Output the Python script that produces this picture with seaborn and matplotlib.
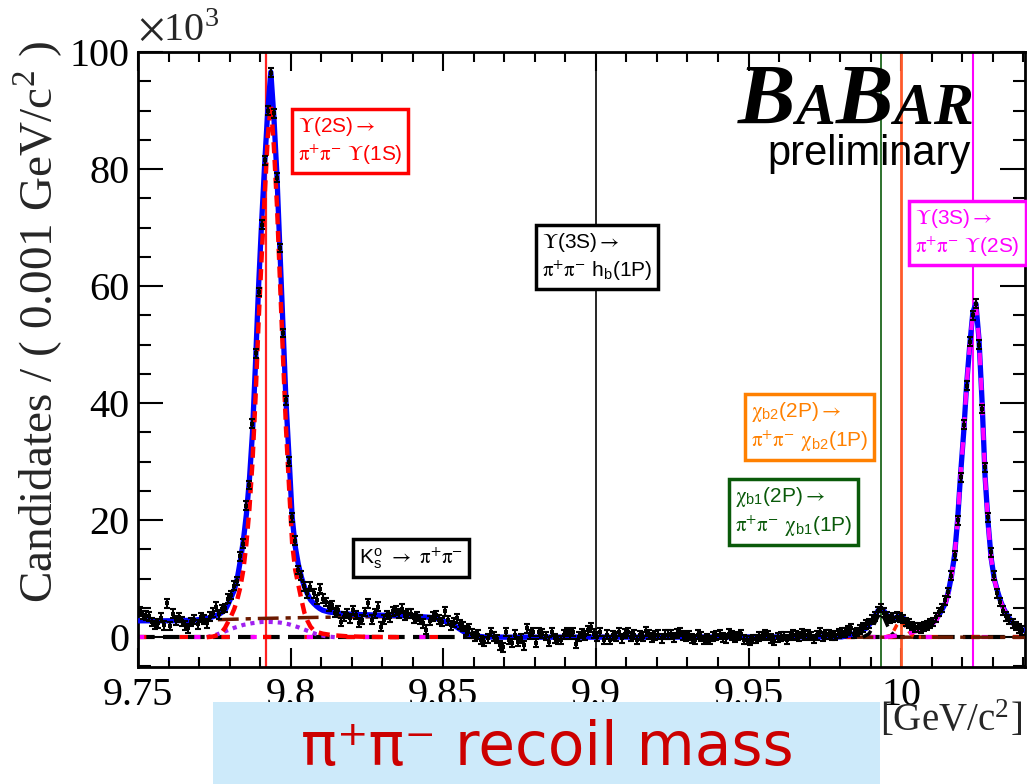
import numpy as np
import pandas as pd
import matplotlib
matplotlib.use("Agg")
import matplotlib.pyplot as plt
import matplotlib.ticker as mticker
from matplotlib.patches import Rectangle
from matplotlib.offsetbox import TextArea, HPacker, AnnotationBbox
import seaborn as sns

# ---------------- data (candidates in units of 10^3) ----------------
MASS_START = 9.750     # GeV/c^2, low edge of first bin
BIN_WIDTH = 0.001      # GeV/c^2

counts = [
    4.4, 3.8, 3.7, 3.6, 2.6, 2.1, 2.4, 3.3, 2.0, 5.8,
    1.9, 4.0, 2.9, 3.4, 2.7, 2.0, 1.5, 2.6, 3.0, 2.2,
    3.4, 3.0, 2.4, 3.5, 4.2, 5.2, 3.9, 4.8, 5.0, 6.6,
    7.2, 8.8, 9.6, 13.8, 16.0, 22.5, 26.0, 36.5, 48.5, 59.0,
    70.5, 81.5, 90.0, 96.5, 89.5, 78.5, 66.5, 52.0, 40.5, 30.0,
    20.5, 16.5, 11.5, 10.5, 8.7, 7.5, 8.6, 7.5, 6.4, 8.3,
    6.6, 6.0, 5.2, 5.5, 4.2, 4.6, 2.6, 3.5, 4.0, 3.2,
    4.6, 3.8, 2.5, 3.0, 4.3, 5.8, 3.0, 4.1, 5.2, 1.8,
    3.0, 3.8, 3.4, 4.4, 4.6, 4.1, 4.9, 3.7, 4.0, 4.0,
    3.2, 3.5, 3.0, 2.4, 1.3, 2.8, 3.5, 3.8, 3.0, 2.6,
    4.4, 2.9, 2.0, 2.5, 3.2, 2.2, 1.8, 1.2, 1.5, 0.6,
    0.1, 0.4, -0.5, -0.8, -0.2, 0.9, 0.1, -0.3, -1.4, -1.7,
    0.9, -0.5, -1.0, 0.4, -0.8, -0.2, -1.4, 1.5, 0.4, 0.9,
    -1.0, 0.9, 0.6, 0.2, -0.8, 0.9, -0.2, -0.5, -0.5, 0.4,
    0.9, 0.4, 0.9, -1.1, 0.1, 0.6, 0.3, 1.2, 1.7, 0.6,
    0.1, 0.9, -0.5, 0.4, -0.5, 0.3, 0.1, 0.9, -0.2, 0.6,
    0.9, 0.1, 0.4, -0.5, 0.3, 0.1, 1.0, 0.4, 0.0, 0.3,
    0.4, -0.2, 0.4, 0.4, 0.5, 0.0, 0.6, 0.9, 0.3, 0.1,
    0.3, -0.2, -0.4, 0.4, 0.1, -0.5, -0.2, -0.5, 0.1, 0.3,
    0.4, 0.0, -0.2, 0.6, 0.3, -0.1, 0.2, 0.5, -0.4, -0.5,
    -0.6, -0.3, -0.3, 0.1, 0.2, 0.5, 0.3, -0.2, -0.6, -0.1,
    0.1, 0.2, -0.4, 0.2, 0.4, 0.3, 0.1, 0.6, 0.3, 0.4,
    0.2, -0.3, 0.3, 0.9, 0.1, 0.4, 0.5, 0.2, 0.3, 0.6,
    0.9, 0.8, 1.2, 1.5, 0.6, 0.9, 1.3, 1.6, 2.2, 2.4,
    3.0, 3.6, 4.4, 5.0, 4.2, 3.6, 3.1, 3.3, 3.5, 3.3,
    3.1, 2.6, 2.3, 1.9, 1.6, 1.7, 1.5, 1.8, 2.0, 2.3,
    2.6, 3.4, 4.3, 5.0, 6.3, 7.7, 10.5, 14.0, 20.0, 27.3,
    36.3, 43.0, 50.5, 55.0, 57.0, 50.0, 39.0, 29.0, 20.5, 14.5,
    10.5, 7.5, 6.0, 4.5, 3.6, 3.0, 2.4, 1.9, 1.5, 1.2,
]
count_err = 0.75   # typical half-length of the error bars (10^3)

# total fit (blue)
fit_total_m = [9.7500, 9.7605, 9.7685, 9.7725, 9.7745, 9.7765, 9.7785, 9.7795, 9.7805, 9.7815,
               9.7825, 9.7835, 9.7845, 9.7855, 9.7865, 9.7875, 9.7885, 9.7895, 9.7905, 9.7915,
               9.7925, 9.7935, 9.7945, 9.7955, 9.7965, 9.7975, 9.7985, 9.7995, 9.8005, 9.8015,
               9.8025, 9.8035, 9.8045, 9.8055, 9.8065, 9.8075, 9.8085, 9.8095, 9.8105, 9.8125,
               9.8155, 9.8205, 9.8305, 9.8405, 9.8455, 9.8485, 9.8505, 9.8525, 9.8545, 9.8565,
               9.8585, 9.8605, 9.8635, 9.8705, 9.9805, 9.9825, 9.9855, 9.9885, 9.9905, 9.9915,
               9.9925, 9.9935, 9.9945, 9.9955, 9.9965, 9.9975, 9.9985, 9.9995, 10.0005, 10.0015,
               10.0025, 10.0035, 10.0045, 10.0055, 10.0065, 10.0075, 10.0085, 10.0095, 10.0105, 10.0115,
               10.0125, 10.0135, 10.0145, 10.0155, 10.0165, 10.0175, 10.0185, 10.0195, 10.0205, 10.0215,
               10.0225, 10.0235, 10.0245, 10.0255, 10.0265, 10.0275, 10.0285, 10.0295, 10.0305, 10.0315,
               10.0325, 10.0335, 10.0345, 10.0355, 10.0365, 10.0375, 10.0385, 10.0395, 10.0405]
fit_total_v = [2.8, 2.8, 2.9, 3.2, 3.5, 3.9, 4.6, 5.6, 6.8, 8.0,
               10.0, 13.0, 16.5, 21.0, 27.0, 35.0, 47.0, 60.0, 71.0, 81.0,
               90.0, 96.6, 89.0, 79.0, 66.0, 53.0, 40.0, 30.5, 20.5, 15.5,
               12.5, 10.3, 8.6, 7.4, 6.4, 5.8, 5.3, 4.9, 4.6, 4.3,
               4.1, 3.9, 3.75, 3.6, 3.4, 3.1, 2.7, 2.3, 1.7, 1.0,
               0.5, 0.2, 0.05, 0.0, 0.05, 0.3, 0.7, 1.5, 2.7, 3.7,
               4.6, 4.9, 4.4, 3.7, 3.3, 3.2, 3.4, 3.6, 3.4, 2.9,
               2.3, 1.9, 1.6, 1.5, 1.5, 1.6, 1.8, 2.1, 2.5, 3.1,
               3.9, 4.8, 5.8, 7.8, 10.5, 14.0, 20.0, 28.0, 35.0, 43.5,
               50.0, 55.5, 57.0, 51.0, 40.5, 27.5, 19.5, 13.5, 10.0, 8.0,
               6.3, 5.0, 4.0, 3.2, 2.5, 2.0, 1.6, 1.3, 1.1]

# Y(2S) -> pi pi Y(1S) signal component (red dashed)
sig2s_m = [9.7725, 9.7745, 9.7765, 9.7775, 9.7785, 9.7795, 9.7805, 9.7815, 9.7825, 9.7835,
           9.7845, 9.7855, 9.7865, 9.7875, 9.7885, 9.7895, 9.7905, 9.7915, 9.7925, 9.7935,
           9.7945, 9.7955, 9.7965, 9.7975, 9.7985, 9.7995, 9.8005, 9.8015, 9.8025, 9.8035,
           9.8045, 9.8055, 9.8065, 9.8075, 9.8085, 9.8105, 9.8135, 9.8185, 9.8255, 9.8355]
sig2s_v = [0.0, 0.1, 0.4, 0.9, 1.6, 2.6, 3.6, 4.8, 6.4, 8.5,
           11.5, 16.0, 22.0, 30.0, 41.0, 54.0, 65.0, 75.5, 85.5, 91.0,
           84.0, 74.0, 61.0, 48.0, 35.5, 25.5, 16.0, 11.5, 9.0, 6.5,
           4.2, 2.8, 1.8, 1.2, 0.9, 0.6, 0.35, 0.15, 0.05, 0.0]

# K_S -> pi pi component (purple dotted)
ks_m = [9.7725, 9.7755, 9.7785, 9.7815, 9.7845, 9.7875, 9.7905, 9.7935, 9.7965, 9.7995,
        9.8025, 9.8055, 9.8085, 9.8115, 9.8145]
ks_v = [0.0, 0.4, 1.0, 1.6, 2.1, 2.4, 2.6, 2.6, 2.5, 2.2,
        1.7, 1.1, 0.5, 0.15, 0.0]

# combinatorial background (brown dash-dot)
bkg_m = [9.7500, 9.7700, 9.7800, 9.7900, 9.8100, 9.8300, 9.8405, 9.8455, 9.8485, 9.8505,
         9.8525, 9.8545, 9.8565, 9.8585, 9.8605, 9.8635, 10.0405]
bkg_v = [2.8, 2.9, 3.05, 3.2, 3.4, 3.5, 3.5, 3.35, 3.05, 2.65,
         2.25, 1.65, 0.95, 0.45, 0.15, 0.0, 0.0]

# chi_b1(2P) component (black dashed)
chib1_m = [9.9875, 9.9895, 9.9905, 9.9915, 9.9925, 9.9935, 9.9945, 9.9955, 9.9965, 9.9975, 9.9985, 10.0005]
chib1_v = [0.0, 0.6, 1.5, 2.6, 3.6, 4.0, 3.2, 2.0, 1.0, 0.4, 0.1, 0.0]

# chi_b2(2P) component (red dashed)
chib2_m = [9.9945, 9.9965, 9.9975, 9.9985, 9.9995, 10.0005, 10.0015, 10.0025, 10.0035, 10.0045, 10.0065]
chib2_v = [0.0, 0.3, 1.0, 2.0, 2.6, 2.5, 1.8, 1.0, 0.4, 0.1, 0.0]

# Y(3S) -> pi pi Y(2S) component (magenta dashed)
sig3s_m = [9.9945, 9.9975, 10.0005, 10.0035, 10.0055, 10.0075, 10.0095, 10.0115, 10.0125, 10.0135,
           10.0145, 10.0155, 10.0165, 10.0175, 10.0185, 10.0195, 10.0205, 10.0215, 10.0225, 10.0235,
           10.0245, 10.0255, 10.0265, 10.0275, 10.0285, 10.0295, 10.0305, 10.0315, 10.0325, 10.0335,
           10.0345, 10.0355, 10.0365, 10.0375, 10.0385, 10.0395, 10.0405]
sig3s_v = [0.0, 0.2, 0.4, 0.8, 1.1, 1.4, 1.9, 2.9, 3.8, 4.7,
           5.7, 7.7, 10.4, 13.9, 19.9, 27.9, 34.9, 43.4, 49.9, 55.4,
           56.9, 50.9, 40.4, 27.4, 19.4, 13.4, 9.9, 7.9, 6.2, 4.9,
           3.9, 3.1, 2.4, 1.9, 1.5, 1.2, 1.0]

# expected transition masses (vertical lines)
ref_mass = [9.7920, 9.9000, 9.9933, 9.9998, 10.0235]
ref_color = ['#ff2020', '#000000', '#0a5a0a', '#ff5a2a', '#ff00ff']
ref_width = [1.6, 1.2, 1.2, 2.0, 1.5]

x_ticks = [9.75, 9.80, 9.85, 9.90, 9.95, 10.00]
y_ticks = [0, 20, 40, 60, 80, 100]

# ---------------- styling ----------------
sns.set_theme(style="ticks")
plt.rcParams["font.family"] = ["Liberation Serif", "DejaVu Serif"]
plt.rcParams["mathtext.fontset"] = "stix"
SANS = ["Liberation Sans", "DejaVu Sans"]

fig = plt.figure(figsize=(10.27, 7.84), dpi=100)
fig.patch.set_facecolor("white")
ax = fig.add_axes([0.1344, 0.1492, 0.8637, 0.7844])
ax.set_facecolor("white")

hist = pd.DataFrame({
    "mass": MASS_START + BIN_WIDTH * (np.arange(len(counts)) + 0.5),
    "cand": counts,
})

# vertical reference lines
for m, c, w in zip(ref_mass, ref_color, ref_width):
    ax.axvline(m, color=c, lw=w, zorder=1)

# zero-level components
ax.axhline(0, color="black", lw=3, dashes=(4, 2), zorder=2)
ax.axhline(0, color="#ff0000", lw=3, dashes=(2, 8), zorder=2.1)
ax.axhline(0, color="#ff00ff", lw=3, dashes=(1.5, 12), zorder=2.2)


def curve(mx, vy, color, lw, dashes=None, z=3):
    sns.lineplot(x=mx, y=vy, ax=ax, color=color, lw=lw, estimator=None,
                 sort=False, zorder=z)
    ln = ax.lines[-1]
    if dashes is not None:
        ln.set_dashes(dashes)
    ln.set_solid_capstyle("butt")
    return ln


curve(bkg_m, bkg_v, "#6b1a00", 2.5, dashes=(6, 2, 1.5, 2), z=3)
curve(ks_m, ks_v, "#a020f0", 3.0, dashes=(1, 1.2), z=3.1)
curve(fit_total_m, fit_total_v, "#0000ff", 3.8, z=4)
curve(sig2s_m, sig2s_v, "#ff0000", 3.2, dashes=(2.5, 1.5), z=4.5)
curve(chib1_m, chib1_v, "#000000", 2.5, dashes=(3, 2), z=4.5)
curve(chib2_m, chib2_v, "#ff2a00", 2.5, dashes=(2, 1.5), z=4.5)
curve(sig3s_m, sig3s_v, "#ff00ff", 3.0, dashes=(3, 3), z=4.6)

# data points with error bars
ax.errorbar(hist["mass"], hist["cand"], yerr=count_err, fmt="none",
            ecolor="black", elinewidth=1.5, capsize=2.4, capthick=1.5, zorder=6)
sns.scatterplot(data=hist, x="mass", y="cand", ax=ax, color="black", s=7,
                marker="s", linewidth=0, zorder=7)

# axes
ax.set_xlim(9.75, 10.0406)
ax.set_ylim(-5.1, 100)
ax.xaxis.set_major_locator(mticker.FixedLocator(x_ticks))
ax.xaxis.set_minor_locator(mticker.MultipleLocator(0.01))
ax.yaxis.set_major_locator(mticker.FixedLocator(y_ticks))
ax.yaxis.set_minor_locator(mticker.MultipleLocator(5))
fmt = mticker.FuncFormatter(lambda v, p: f"{v:g}")
ax.xaxis.set_major_formatter(fmt)
ax.yaxis.set_major_formatter(fmt)
for s in ax.spines.values():
    s.set_linewidth(2)
    s.set_color("black")
    s.set_visible(True)
ax.tick_params(axis="both", which="both", direction="in", top=True, right=True,
               colors="black", width=1.5, labelsize=29)
ax.tick_params(axis="x", which="major", length=14, pad=7)
ax.tick_params(axis="x", which="minor", length=7)
ax.tick_params(axis="y", which="major", length=18, pad=6)
ax.tick_params(axis="y", which="minor", length=9)

yl = ax.set_ylabel("Candidates / ( 0.001 GeV/c$^{\\mathregular{2}}$ )", fontsize=34)
yl.set_rotation_mode("default")
yl.set_ha("center")
yl.set_va("top")
ax.yaxis.set_label_coords(-0.112, 1.0195)

xl = ax.set_xlabel("[GeV/c$^{\\mathregular{2}}$]", fontsize=28)
xl.set_ha("right")
xl.set_va("center")
ax.xaxis.set_label_coords(0.9966, -0.085)

ax.text(0.0, 1.005, r"$\times$10$^{\mathregular{3}}$", transform=ax.transAxes,
        fontsize=29, ha="left", va="bottom")

# annotation boxes
PIPI = "$\\mathrm{\\pi^{+}\\pi^{-}}$"
boxes = [
    (0.1804, 0.8976, "$\\Upsilon$(2S)$\\rightarrow$\n" + PIPI + " $\\Upsilon$(1S)", "#ff0000"),
    (0.4555, 0.7089, "$\\Upsilon$(3S)$\\rightarrow$\n" + PIPI + " h$_{\\mathregular{b}}$(1P)", "#000000"),
    (0.8760, 0.7480, "$\\Upsilon$(3S)$\\rightarrow$\n" + PIPI + " $\\Upsilon$(2S)", "#ff00ff"),
    (0.6911, 0.4341, "$\\mathrm{\\chi}_{\\mathregular{b2}}$(2P)$\\rightarrow$\n" + PIPI
     + " $\\mathrm{\\chi}_{\\mathregular{b2}}$(1P)", "#ff8000"),
    (0.6731, 0.2959, "$\\mathrm{\\chi}_{\\mathregular{b1}}$(2P)$\\rightarrow$\n" + PIPI
     + " $\\mathrm{\\chi}_{\\mathregular{b1}}$(1P)", "#0a5a0a"),
    (0.2492, 0.1984, "K$_{\\mathregular{s}}^{\\mathregular{o}}$ $\\rightarrow$ " + PIPI, "#000000"),
]
for bx, by, txt, col in boxes:
    ax.text(bx, by, txt, transform=ax.transAxes, ha="left", va="top",
            fontsize=15, color=col, family=SANS, linespacing=1.25, zorder=10,
            bbox=dict(boxstyle="square,pad=0.28", fc="white", ec=col, lw=2.5))

# BaBar logo
logo_letters = [("B", 62), ("A", 43), ("B", 62), ("A", 43), ("R", 43)]
areas = [TextArea(ch, textprops=dict(fontsize=sz, fontweight="bold", fontstyle="italic",
                                     family=["Liberation Serif", "DejaVu Serif"], color="black"))
         for ch, sz in logo_letters]
pack = HPacker(children=areas, align="baseline", pad=0, sep=0)
ab = AnnotationBbox(pack, (738 / 1027, 1 - 143 / 784), xycoords="figure fraction",
                    box_alignment=(0, 0), frameon=False, pad=0, zorder=12)
fig.add_artist(ab)
fig.text(971 / 1027, 1 - 165 / 784, "preliminary", ha="right", va="baseline",
         fontsize=30, family=SANS, color="black")

# banner
fig.patches.append(Rectangle((213 / 1027, 0), (880 - 213) / 1027, (784 - 702) / 784,
                             transform=fig.transFigure, facecolor="#cdeafa",
                             edgecolor="none", zorder=0))
fig.text(547 / 1027, 1 - 748 / 784, "π⁺π⁻ recoil mass", ha="center", va="center",
         fontsize=43, family=["DejaVu Sans"], color="#cc0000")

fig.savefig("out.png", dpi=100, facecolor="white")
